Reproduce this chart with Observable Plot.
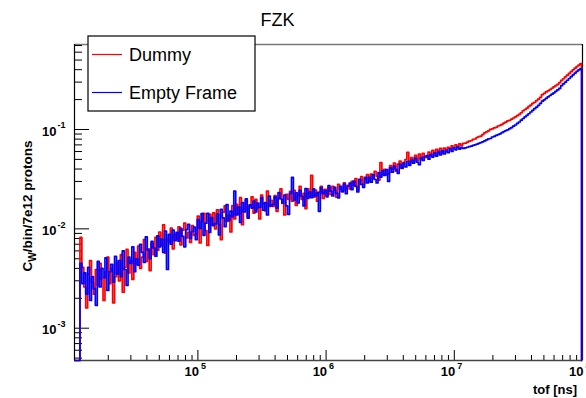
<!DOCTYPE html>
<html><head><meta charset="utf-8">
<script src="https://cdn.jsdelivr.net/npm/d3@7"></script>
<script src="https://cdn.jsdelivr.net/npm/@observablehq/plot@0.6"></script>
<style>html,body{margin:0;padding:0;background:#fff;} svg{display:block}</style>
</head><body><div id="chart"></div>
<script>
// ---- data: log10 of bin low edge (tof in ns) and histogram contents ----
const tofLog = [
4.080,4.095,4.110,4.125,4.140,4.155,4.170,4.185,4.200,4.215,
4.230,4.245,4.260,4.275,4.290,4.305,4.320,4.335,4.350,4.365,
4.380,4.395,4.410,4.425,4.440,4.455,4.470,4.485,4.500,4.515,
4.530,4.545,4.560,4.575,4.590,4.605,4.620,4.635,4.650,4.665,
4.680,4.695,4.710,4.725,4.740,4.755,4.770,4.785,4.800,4.815,
4.830,4.845,4.860,4.875,4.890,4.905,4.920,4.935,4.950,4.965,
4.980,4.995,5.010,5.025,5.040,5.055,5.070,5.085,5.100,5.115,
5.130,5.145,5.160,5.175,5.190,5.205,5.220,5.235,5.250,5.265,
5.280,5.295,5.310,5.325,5.340,5.355,5.370,5.385,5.400,5.415,
5.430,5.445,5.460,5.475,5.490,5.505,5.520,5.535,5.550,5.565,
5.580,5.595,5.610,5.625,5.640,5.655,5.670,5.685,5.700,5.715,
5.730,5.745,5.760,5.775,5.790,5.805,5.820,5.835,5.850,5.865,
5.880,5.895,5.910,5.925,5.940,5.955,5.970,5.985,6.000,6.015,
6.030,6.045,6.060,6.075,6.090,6.105,6.120,6.135,6.150,6.165,
6.180,6.195,6.210,6.225,6.240,6.255,6.270,6.285,6.300,6.315,
6.330,6.345,6.360,6.375,6.390,6.405,6.420,6.435,6.450,6.465,
6.480,6.495,6.510,6.525,6.540,6.555,6.570,6.585,6.600,6.615,
6.630,6.645,6.660,6.675,6.690,6.705,6.720,6.735,6.750,6.765,
6.780,6.795,6.810,6.825,6.840,6.855,6.870,6.885,6.900,6.915,
6.930,6.945,6.960,6.975,6.990,7.005,7.020,7.035,7.050,7.065,
7.080,7.095,7.110,7.125,7.140,7.155,7.170,7.185,7.200,7.215,
7.230,7.245,7.260,7.275,7.290,7.305,7.320,7.335,7.350,7.365,
7.380,7.395,7.410,7.425,7.440,7.455,7.470,7.485,7.500,7.515,
7.530,7.545,7.560,7.575,7.590,7.605,7.620,7.635,7.650,7.665,
7.680,7.695,7.710,7.725,7.740,7.755,7.770,7.785,7.800,7.815,
7.830,7.845,7.860,7.875,7.890,7.905,7.920,7.935,7.950,7.965,
7.980];
const dummy = [
0.0082,0.0041,0.0026,0.0016,0.0035,0.0048,0.0029,0.0022,0.0039,0.0027,
0.0045,0.0031,0.0019,0.0037,0.0052,0.0028,0.0040,0.0018,0.0033,0.0046,
0.0030,0.0055,0.0023,0.0041,0.0062,0.0036,0.0048,0.0031,0.0058,0.0044,
0.0067,0.0040,0.0052,0.0078,0.0047,0.0063,0.0038,0.0071,0.0055,0.0082,
0.0061,0.0093,0.0068,0.0110,0.0057,0.0080,0.0074,0.0102,0.0063,0.0088,
0.0078,0.0105,0.0069,0.0097,0.0114,0.0081,0.0092,0.0073,0.0108,0.0086,
0.0088,0.0134,0.0072,0.0118,0.0143,0.0096,0.0068,0.0140,0.0110,0.0145,
0.0100,0.0155,0.0111,0.0078,0.0147,0.0170,0.0119,0.0137,0.0093,0.0171,
0.0126,0.0176,0.0140,0.0206,0.0110,0.0160,0.0194,0.0132,0.0170,0.0210,
0.0144,0.0198,0.0160,0.0126,0.0218,0.0178,0.0152,0.0240,0.0168,0.0194,
0.0168,0.0216,0.0150,0.0204,0.0252,0.0180,0.0138,0.0222,0.0198,0.0238,
0.0190,0.0244,0.0172,0.0216,0.0268,0.0198,0.0228,0.0160,0.0252,0.0210,
0.0345,0.0208,0.0246,0.0190,0.0234,0.0268,0.0202,0.0250,0.0218,0.0260,
0.0222,0.0268,0.0245,0.0209,0.0281,0.0252,0.0236,0.0290,0.0248,0.0274,
0.0252,0.0300,0.0275,0.0320,0.0246,0.0298,0.0335,0.0282,0.0318,0.0352,
0.0300,0.0356,0.0322,0.0380,0.0338,0.0310,0.0465,0.0350,0.0398,0.0352,
0.0362,0.0432,0.0398,0.0460,0.0380,0.0448,0.0480,0.0405,0.0468,0.0498,
0.0590,0.0462,0.0520,0.0478,0.0548,0.0490,0.0565,0.0505,0.0575,0.0520,
0.0528,0.0592,0.0550,0.0615,0.0560,0.0630,0.0575,0.0645,0.0585,0.0650,
0.0612,0.0660,0.0640,0.0685,0.0655,0.0702,0.0670,0.0718,0.0690,0.0725,
0.0728,0.0745,0.0762,0.0770,0.0795,0.0802,0.0831,0.0846,0.0858,0.0889,
0.0925,0.0948,0.0970,0.1002,0.1015,0.1040,0.1052,0.1085,0.1098,0.1125,
0.1160,0.1188,0.1220,0.1236,0.1270,0.1305,0.1342,0.1378,0.1420,0.1475,
0.1545,0.1590,0.1640,0.1705,0.1760,0.1830,0.1880,0.1950,0.2020,0.2110,
0.2240,0.2310,0.2390,0.2450,0.2520,0.2600,0.2680,0.2760,0.2850,0.2960,
0.3120,0.3240,0.3390,0.3520,0.3670,0.3820,0.3990,0.4140,0.4300,0.4450,
0.4600];
const emptyFrame = [
0.0045,0.0028,0.0036,0.0022,0.0041,0.0019,0.0033,0.0025,0.0017,0.0047,
0.0026,0.0040,0.0032,0.0051,0.0024,0.0037,0.0044,0.0029,0.0053,0.0035,
0.0048,0.0033,0.0060,0.0039,0.0027,0.0052,0.0045,0.0066,0.0037,0.0050,
0.0043,0.0070,0.0058,0.0046,0.0083,0.0061,0.0050,0.0075,0.0064,0.0053,
0.0085,0.0066,0.0079,0.0058,0.0095,0.0039,0.0088,0.0070,0.0097,0.0076,
0.0092,0.0075,0.0101,0.0084,0.0066,0.0098,0.0111,0.0080,0.0094,0.0104,
0.0078,0.0124,0.0101,0.0142,0.0086,0.0114,0.0143,0.0092,0.0130,0.0108,
0.0113,0.0141,0.0087,0.0157,0.0129,0.0105,0.0175,0.0121,0.0151,0.0133,
0.0240,0.0138,0.0166,0.0116,0.0184,0.0148,0.0200,0.0128,0.0174,0.0162,
0.0190,0.0148,0.0182,0.0164,0.0206,0.0154,0.0184,0.0138,0.0214,0.0170,
0.0176,0.0210,0.0162,0.0232,0.0200,0.0182,0.0218,0.0170,0.0140,0.0228,
0.0330,0.0194,0.0230,0.0182,0.0244,0.0212,0.0170,0.0254,0.0202,0.0236,
0.0206,0.0252,0.0214,0.0232,0.0150,0.0260,0.0226,0.0242,0.0210,0.0272,
0.0240,0.0214,0.0262,0.0228,0.0205,0.0268,0.0238,0.0282,0.0226,0.0270,
0.0288,0.0248,0.0302,0.0268,0.0235,0.0315,0.0280,0.0262,0.0330,0.0290,
0.0330,0.0295,0.0350,0.0315,0.0290,0.0368,0.0332,0.0385,0.0345,0.0395,
0.0300,0.0410,0.0372,0.0428,0.0395,0.0362,0.0445,0.0408,0.0458,0.0420,
0.0478,0.0436,0.0492,0.0458,0.0515,0.0470,0.0442,0.0520,0.0488,0.0535,
0.0545,0.0502,0.0560,0.0528,0.0582,0.0540,0.0598,0.0555,0.0610,0.0568,
0.0618,0.0585,0.0640,0.0602,0.0655,0.0625,0.0670,0.0635,0.0662,0.0645,
0.0652,0.0663,0.0671,0.0680,0.0692,0.0701,0.0712,0.0725,0.0738,0.0752,
0.0768,0.0785,0.0803,0.0812,0.0840,0.0851,0.0872,0.0889,0.0905,0.0928,
0.0952,0.0975,0.0992,0.1020,0.1045,0.1080,0.1110,0.1150,0.1190,0.1240,
0.1290,0.1340,0.1390,0.1440,0.1500,0.1560,0.1620,0.1680,0.1750,0.1830,
0.1930,0.1990,0.2060,0.2130,0.2200,0.2270,0.2340,0.2420,0.2500,0.2590,
0.2760,0.2880,0.3000,0.3130,0.3260,0.3400,0.3550,0.3700,0.3850,0.3990,
0.4100];
// empty (zero-content) bins bounding the histograms, log10(tof)
const emptyBinLog = [4.04, 7.993];

// axis ticks & labels
const xMajor = [1e5, 1e6, 1e7, 1e8];
const xExp = ["5", "6", "7", "8"];
const yMajor = [1e-1, 1e-2, 1e-3];
const yExp = ["-1", "-2", "-3"];
const minorMult = [2, 3, 4, 5, 6, 7, 8, 9];
const xDecades = [1e4, 1e5, 1e6, 1e7];
const yDecades = [1e-4, 1e-3, 1e-2, 1e-1];
const xDomain = [1.09e4, 1e8];
const yDomain = [4.73e-4, 0.717];

const title = "FZK";
const xTitle = "tof [ns]";
const seriesNames = ["Dummy", "Empty Frame"];
const seriesColors = ["#ff0000", "#0000ff"];

// ---- build table ----
const rows = [
  {tof: 10 ** emptyBinLog[0], dummy: 0, empty: 0},
  ...tofLog.map((lx, i) => ({tof: 10 ** lx, dummy: dummy[i], empty: emptyFrame[i]})),
  {tof: 10 ** emptyBinLog[1], dummy: 0, empty: 0}
];
const xMinor = xDecades.flatMap(d => minorMult.map(m => m * d)).filter(v => v > xDomain[0] && v < xDomain[1]);
const yMinor = yDecades.flatMap(d => minorMult.map(m => m * d)).filter(v => v > yDomain[0] && v < yDomain[1]);

const W = 586, H = 398, mL = 74, mR = 4, mT = 44, mB = 38;
const pw = W - mL - mR, ph = H - mT - mB;
const font = "'Liberation Sans', Arial, Helvetica, sans-serif";

const plot = Plot.plot({
  width: W, height: H,
  marginLeft: mL, marginRight: mR, marginTop: mT, marginBottom: mB,
  style: {fontFamily: font, background: "white", color: "black"},
  x: {type: "log", domain: xDomain, axis: null},
  y: {type: "log", domain: yDomain, axis: null, clamp: true},
  marks: [
    // frame
    Plot.ruleY([yDomain[1]], {stroke: "#777", strokeWidth: 1.5}),
    Plot.ruleX([xDomain[1]], {stroke: "black", strokeWidth: 1.2}),
    // ticks
    Plot.ruleX(xMajor, {insetTop: ph - 10, stroke: "black"}),
    Plot.ruleX(xMinor, {insetTop: ph - 5, stroke: "black"}),
    Plot.ruleY(yMajor, {insetRight: pw - 15, stroke: "black"}),
    Plot.ruleY(yMinor, {insetRight: pw - 8, stroke: "black"}),
    Plot.ruleY([yDomain[0]], {stroke: "#444", strokeWidth: 1.3}),
    Plot.ruleX([xDomain[0]], {stroke: "black", strokeWidth: 1.2}),
    // data
    Plot.line(rows, {x: "tof", y: "dummy", curve: "step-after", stroke: seriesColors[0], strokeWidth: 1.7}),
    Plot.line(rows, {x: "tof", y: "empty", curve: "step-after", stroke: seriesColors[1], strokeWidth: 1.7}),
    // tick labels
    Plot.text(xMajor, {x: d => d, frameAnchor: "bottom", text: () => "10", textAnchor: "end", dx: 1, dy: 15, fontSize: 13, fontWeight: "bold"}),
    Plot.text(xMajor, {x: d => d, frameAnchor: "bottom", text: (d, i) => xExp[i], textAnchor: "start", dx: 3, dy: 8, fontSize: 9, fontWeight: "bold"}),
    Plot.text(yMajor, {y: d => d, frameAnchor: "left", text: () => "10", textAnchor: "end", dx: -18, dy: 2, fontSize: 13, fontWeight: "bold"}),
    Plot.text(yMajor, {y: d => d, frameAnchor: "left", text: (d, i) => yExp[i], textAnchor: "start", dx: -17, dy: -4, fontSize: 9, fontWeight: "bold"})
  ]
});

const svg = d3.select(plot);
// title
svg.append("text").attr("x", 277.5).attr("y", 26).attr("text-anchor", "middle")
  .attr("font-family", font).attr("font-size", 18).attr("fill", "black").text(title);
// x title
svg.append("text").attr("x", 577).attr("y", 394).attr("text-anchor", "end")
  .attr("font-family", font).attr("font-size", 13).attr("font-weight", "bold").text(xTitle);
// y title with subscript
const yt = svg.append("text").attr("transform", "translate(32,206) rotate(-90)").attr("text-anchor", "middle")
  .attr("font-family", font).attr("font-size", 13.5).attr("font-weight", "bold");
yt.append("tspan").text("C");
yt.append("tspan").attr("font-size", 10).attr("dy", 4).text("W");
yt.append("tspan").attr("dy", -4).text("/bin/7e12 protons");
// legend
const lg = svg.append("g");
lg.append("rect").attr("x", 88).attr("y", 36).attr("width", 167).attr("height", 75)
  .attr("fill", "white").attr("stroke", "black").attr("stroke-width", 1.2);
seriesNames.forEach((name, i) => {
  const cy = 54.5 + i * 38;
  lg.append("line").attr("x1", 92).attr("x2", 122).attr("y1", cy).attr("y2", cy)
    .attr("stroke", seriesColors[i]).attr("stroke-width", 1.2);
  lg.append("text").attr("x", 129).attr("y", cy + 6.3).attr("text-anchor", "start")
    .attr("font-family", font).attr("font-size", 18).attr("fill", "black").text(name);
});

document.getElementById("chart").appendChild(plot);
</script></body></html>
